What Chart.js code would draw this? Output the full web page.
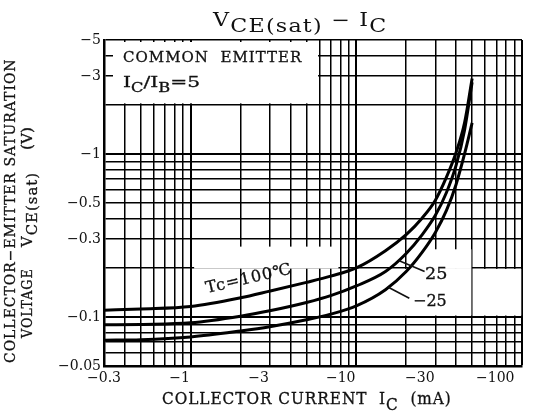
<!DOCTYPE html>
<html>
<head>
<meta charset="utf-8">
<script src="https://cdn.jsdelivr.net/npm/chart.js@4.4.0/dist/chart.umd.min.js"></script>
<style>
html,body{margin:0;padding:0;background:#fff;}
#wrap{position:relative;width:538px;height:412px;overflow:hidden;font-family:"DejaVu Serif","Liberation Serif",serif;color:#111;}
#c{position:absolute;left:0;top:0;}
.t{position:absolute;white-space:nowrap;transform-origin:0 0;-webkit-text-stroke:0.3px #111;}
.sb{position:relative;}
</style>
</head>
<body>
<div id="wrap">
<canvas id="c" width="538" height="412"></canvas>
<!-- title -->
<div class="t fit" data-w="175" style="left:213px;top:11px;font-size:18px;line-height:18px;letter-spacing:1px;-webkit-text-stroke:0">V<span class="sb" style="top:6px">CE(sat)</span> − I<span class="sb" style="top:6px">C</span></div>
<!-- y axis title (two rotated lines) -->
<div class="t fit" data-w="305" data-rot="-90" style="left:3px;top:363px;font-size:14px;line-height:14px;letter-spacing:1px">COLLECTOR−EMITTER SATURATION</div>
<div class="t fit" data-w="70" data-rot="-90" style="left:20px;top:338px;font-size:14px;line-height:14px;letter-spacing:1px">VOLTAGE</div>
<div class="t fit" data-w="75" data-rot="-90" style="left:20px;top:247px;font-size:14px;line-height:14px;letter-spacing:1px">V<span class="sb" style="top:5px">CE(sat)</span></div>
<div class="t fit" data-w="23" data-rot="-90" style="left:20px;top:150px;font-size:14px;line-height:14px;">(V)</div>
<!-- x axis title -->
<div class="t fit" data-w="290" style="left:162px;top:391px;font-size:16px;line-height:16px;letter-spacing:1px">COLLECTOR CURRENT&nbsp;&nbsp;I<span class="sb" style="top:6px">C</span>&nbsp;&nbsp;(mA)</div>
<!-- condition box -->
<div class="t fit" data-w="179" style="left:123px;top:50px;font-size:15px;line-height:15px;letter-spacing:1px">COMMON&nbsp;&nbsp;EMITTER</div>
<div class="t fit" data-w="77" style="left:123px;top:75px;font-size:15px;line-height:15px;">I<span class="sb" style="top:5px;font-size:12px">C</span>/I<span class="sb" style="top:5px;font-size:12px">B</span>=5</div>
<!-- curve labels -->
<div class="t fit" data-w="88" data-rot="-13" style="left:207px;top:279.5px;font-size:16px;line-height:16px;transform-origin:0 13.5px;letter-spacing:1px">Tc=100℃</div>
<div class="t fit" data-w="22" style="left:425px;top:266px;font-size:16px;line-height:16px;">25</div>
<div class="t fit" data-w="34" style="left:413px;top:293px;font-size:16px;line-height:16px;">−25</div>
</div>
<script>
// ---- data (collector current in mA, VCE(sat) in V) ----
const icMA   = [-0.3, -0.5, -1, -2, -3, -5, -7, -10, -15, -20, -25, -30, -35, -40, -45, -50];
const vce100 = [-0.110, -0.112, -0.116, -0.131, -0.144, -0.163, -0.178, -0.200, -0.255, -0.320, -0.405, -0.520, -0.720, -1.02, -1.55, -2.90];
const vce25  = [-0.0894, -0.090, -0.092, -0.101, -0.109, -0.1226, -0.135, -0.155, -0.190, -0.245, -0.320, -0.420, -0.580, -0.850, -1.40, -2.75];
const vceM25 = [-0.072, -0.0725, -0.0754, -0.082, -0.087, -0.096, -0.104, -0.117, -0.147, -0.190, -0.250, -0.330, -0.450, -0.650, -1.00, -1.55];
const seriesNames = ['Tc=100℃', '25', '−25'];
const xTickValues = [-0.3, -1, -3, -10, -30, -100];
const yTickValues = [-5, -3, -1, -0.5, -0.3, -0.1, -0.05];

const TICKFONT = '"DejaVu Serif","Liberation Serif",serif';
const TICKSIZE = 14;
const absX = xTickValues.map(Math.abs);
const absY = yTickValues.map(Math.abs);

// fit overlay texts to their measured widths in the reference
document.querySelectorAll('.fit').forEach(el => {
  const w = +el.dataset.w;
  const k = w / el.scrollWidth;
  const rot = el.dataset.rot ? `rotate(${el.dataset.rot}deg) ` : '';
  el.style.transform = `${rot}scaleX(${k.toFixed(4)})`;
});

function logGrid(min, max) {
  const out = [];
  for (let e = -3; e <= 3; e++) {
    for (let m = 1; m <= 9; m++) {
      const v = +(m * Math.pow(10, e)).toPrecision(3);
      if (v >= min - 1e-9 && v <= max + 1e-9) out.push(v);
    }
  }
  return out;
}
function near(a, b) { return Math.abs(a - b) < 1e-9 * Math.max(1, b); }
function fmt(v) { return '\u2212' + String(v); }

const mctx = document.createElement('canvas').getContext('2d');
mctx.font = TICKSIZE + 'px ' + TICKFONT;
// centred label padded with trailing spaces so the visible text ends `shift` px left of the tick
function padRight(s, shift) {
  const w = mctx.measureText(s).width, sp = mctx.measureText(' ').width;
  const n = Math.max(0, Math.round((w + 2 * shift) / sp));
  return s + ' '.repeat(n);
}
function xLabel(v) {
  const i = absX.findIndex(t => near(t, v));
  if (i < 0) return '';
  const s = fmt(absX[i]);
  if (i === 0) return s;
  if (i === absX.length - 1) return padRight(s, 8);
  return padRight(s, 0);
}
function yLabel(v) {
  const i = absY.findIndex(t => near(t, v));
  return i < 0 ? '' : fmt(absY[i]);
}
function gridWidth(ctx) {
  const v = ctx.tick ? ctx.tick.value : 0;
  const lg = Math.log10(v);
  if (Math.abs(lg - Math.round(lg)) < 1e-6) return 2;
  return 1.5;
}
function series(vals) {
  return icMA.map((c, i) => ({ x: Math.abs(c), y: Math.abs(vals[i]) }));
}

const overlayPlugin = {
  id: 'overlay',
  beforeDatasetsDraw(chart) {
    const { ctx, chartArea: a, scales: { x, y } } = chart;
    const px = v => x.getPixelForValue(v), py = v => y.getPixelForValue(v);
    ctx.save();
    ctx.fillStyle = '#fff';
    const rect = (x0, x1, y0, y1) => ctx.fillRect(x0, y0, x1 - x0, y1 - y0);
    rect(a.left + 9, px(6) - 1.5, a.top + 2, py(2) - 1.5);        // condition box
    rect(px(1.05), px(7.8), py(0.27), py(0.198));                 // Tc label area
    rect(px(10.5), px(49.5), py(0.197), py(0.102));               // 25 / -25 label area
    rect(px(20.5), px(49.5), py(0.26), py(0.197));
    rect(px(51), px(99), py(0.197), py(0.102));
    ctx.restore();
  },
  afterDatasetsDraw(chart) {
    const { ctx, scales: { x, y } } = chart;
    ctx.save();
    ctx.strokeStyle = '#111';
    ctx.lineWidth = 1.6;
    const lead = (iv, vv, dx, dy) => {
      const x0 = x.getPixelForValue(iv), y0 = y.getPixelForValue(vv);
      ctx.beginPath(); ctx.moveTo(x0, y0); ctx.lineTo(x0 + dx, y0 + dy); ctx.stroke();
    };
    lead(18, 0.222, 26, 11);
    lead(15.6, 0.152, 21, 11);
    ctx.restore();
  }
};

const ds = (label, vals) => ({
  label, data: series(vals), borderColor: '#000', borderWidth: 3,
  pointRadius: 0, fill: false, cubicInterpolationMode: 'monotone'
});

new Chart(document.getElementById('c'), {
  type: 'line',
  data: { datasets: [ds(seriesNames[0], vce100), ds(seriesNames[1], vce25), ds(seriesNames[2], vceM25)] },
  options: {
    responsive: false, animation: false, devicePixelRatio: 1,
    layout: { padding: { top: 40, right: 16, bottom: 0, left: 0 } },
    plugins: { legend: { display: false }, tooltip: { enabled: false }, title: { display: false } },
    scales: {
      x: {
        type: 'logarithmic', min: 0.3, max: 100,
        afterBuildTicks: s => { s.ticks = logGrid(0.3, 100).map(v => ({ value: v })); },
        afterFit: s => { s.height = 46; s.paddingLeft = 0; s.paddingRight = 0; },
        ticks: { autoSkip: false, maxRotation: 0, minRotation: 0, padding: 4, color: '#111',
                 font: { family: TICKFONT, size: TICKSIZE }, callback: v => xLabel(v) },
        grid: { color: '#000', lineWidth: gridWidth, drawTicks: false },
        border: { display: true, color: '#000', width: 2.5 }
      },
      y: {
        type: 'logarithmic', min: 0.05, max: 5,
        afterBuildTicks: s => { s.ticks = logGrid(0.05, 5).map(v => ({ value: v })); },
        afterFit: s => { s.width = 104; },
        ticks: { autoSkip: false, padding: 3, color: '#111',
                 font: { family: TICKFONT, size: TICKSIZE }, callback: v => yLabel(v) },
        grid: { color: '#000', lineWidth: gridWidth, drawTicks: false },
        border: { display: true, color: '#000', width: 2.5 }
      }
    }
  },
  plugins: [overlayPlugin]
});
</script>
</body>
</html>
